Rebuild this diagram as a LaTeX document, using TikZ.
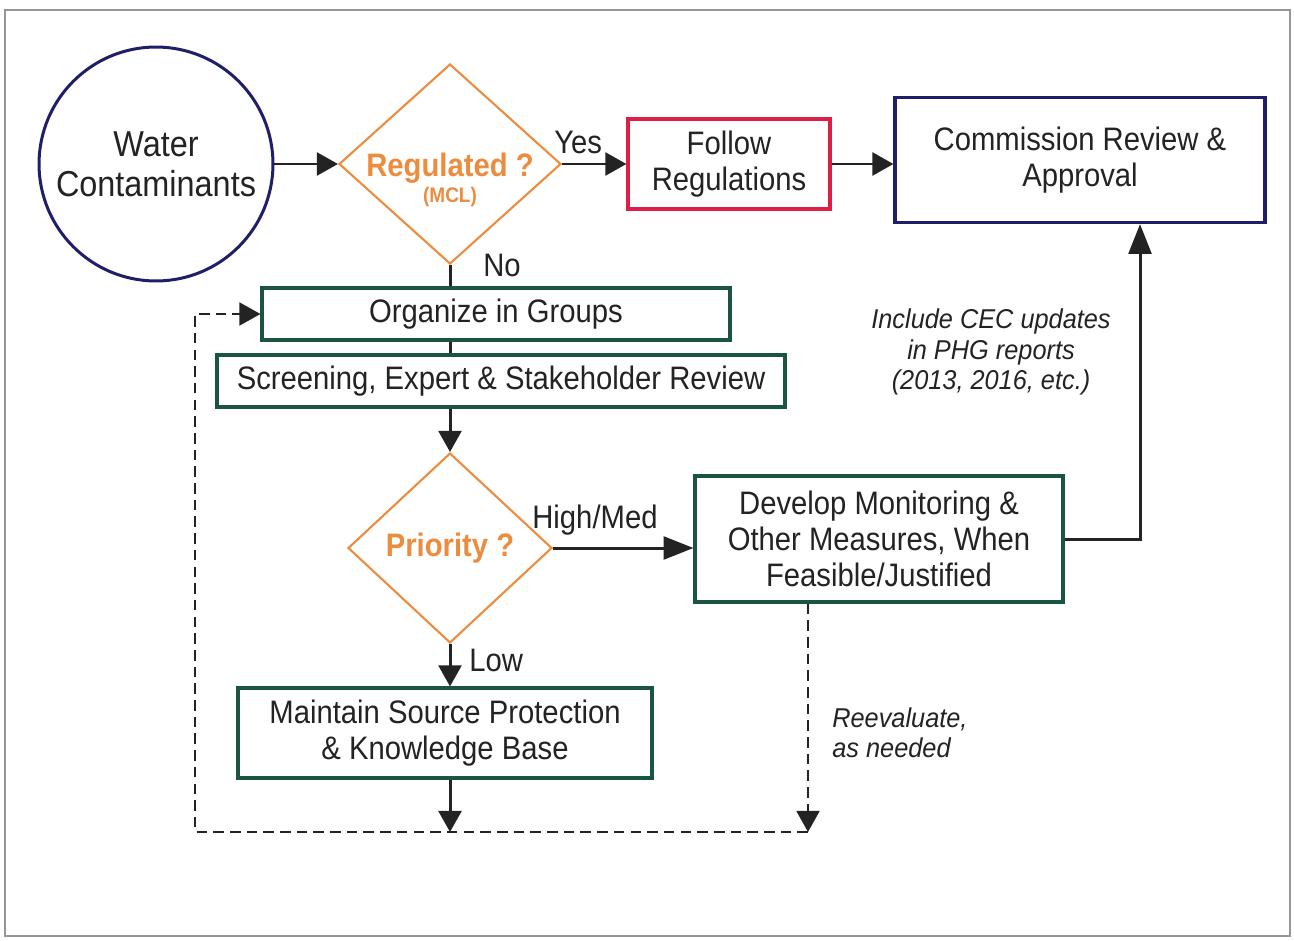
\documentclass[tikz,border=0pt]{standalone}
\usepackage{fontspec}
\setmainfont{Liberation Sans}[FakeStretch=0.9]
\newfontfamily\notefont{Liberation Sans}[FakeStretch=0.93]
\usetikzlibrary{shapes.geometric,arrows.meta,positioning}
\definecolor{navyline}{RGB}{30,30,105}
\definecolor{redline}{RGB}{222,30,70}
\definecolor{greenline}{RGB}{25,85,65}
\definecolor{orangeline}{RGB}{236,140,62}
\definecolor{textgray}{RGB}{35,35,35}
\definecolor{framegray}{RGB}{150,150,150}

\begin{document}
\begin{tikzpicture}[x=0.02cm, y=-0.02cm,
    box/.style={draw=greenline, line width=1.8pt, fill=white, text=textgray, align=center, font=\fontsize{18.5}{20.5}\selectfont, inner sep=2pt},
    decision/.style={diamond, draw=orangeline, line width=1.2pt, text=orangeline, inner sep=0pt, font=\fontsize{18.5}{18}\selectfont\bfseries},
    arr/.style={-{Triangle[length=12pt,width=13pt]}, line width=1.7pt, draw=textgray},
    bigarr/.style={arr, -{Triangle[length=17pt,width=13pt]}},
    joint/.style={line width=1.7pt, draw=textgray},
    recheck/.style={arr, line width=1.4pt, dash pattern=on 6pt off 3.5pt},
    lbl/.style={text=textgray, font=\fontsize{18.5}{20}\selectfont, inner sep=0pt},
    note/.style={text=textgray, inner sep=0pt, font=\notefont\itshape\fontsize{15.5}{17.3}\selectfont},
]
    \useasboundingbox (0,0) rectangle (1294,940);
    % page frame
    \draw[framegray, line width=0.8pt] (5,10) rectangle (1290,936);

    % top row
    \node[circle, draw=navyline, line width=1.7pt, minimum size=4.68cm, text=textgray, align=center,
          font=\fontsize{20.5}{22.7}\selectfont] (water) at (156,164) {Water\\Contaminants};
    \node[decision, minimum width=4.44cm, minimum height=4cm] (reg) at (450,164)
        {\smash{\raisebox{-15pt}{\begin{tabular}{@{}c@{}}Regulated ?\\[-3pt]{\fontsize{12}{14}\selectfont(MCL)}\end{tabular}}}};
    \node[box, draw=redline, minimum width=4.04cm, minimum height=1.8cm] (follow) at (729,164) {Follow\\Regulations};
    \node[box, draw=navyline, minimum width=7.4cm, minimum height=2.5cm] (comm) at (1080,160) {Commission Review \&\\Approval};

    % screening column
    \node[box, minimum width=9.36cm, minimum height=1.04cm] (org) at (496,314) {Organize in Groups};
    \node[box, minimum width=11.36cm, minimum height=1.04cm] (scr) at (501,381) {Screening, Expert \& Stakeholder Review};
    \node[decision, minimum width=4.08cm, minimum height=3.8cm] (pri) at (450,548) {Priority ?};
    \node[box, minimum width=7.36cm, minimum height=2.52cm] (dev) at (879,539)
        {Develop Monitoring \&\\Other Measures, When\\Feasible/Justified};
    \node[box, minimum width=8.28cm, minimum height=1.8cm] (maint) at (445,733)
        {Maintain Source Protection\\\& Knowledge Base};

    % helper points
    \coordinate (riser) at (1140,543);
    \coordinate (sinkL) at (195,832);
    \coordinate (sinkR) at (808,832);

    % labels
    \node[lbl, anchor=base west] (yes) at (554,153) {Yes};
    \node[lbl, anchor=base west] (no) at (483,276) {No};
    \node[lbl, anchor=base west] (high) at (532,528) {High/Med};
    \node[lbl, anchor=base west] (low) at (469,671) {Low};
    \node[note, align=center] (cec) at (991,352) {Include CEC updates\\in PHG reports\\(2013, 2016, etc.)};
    \node[note, align=left, anchor=west] (reeval) at (832,733) {Reevaluate,\\as needed};

    % connectors
    \draw[arr] (water) -- (reg);
    \draw[arr] (reg) -- (follow);
    \draw[arr] (follow.east) -- (follow.east -| comm.west);
    \draw[joint] (reg.south) -- (reg.south |- org.north);
    \draw[joint] (reg.south |- org.south) -- (reg.south |- scr.north);
    \draw[arr] (pri.north |- scr.south) -- (pri.north);
    \draw[bigarr] (pri.east) -- (pri.east -| dev.west);
    \draw[bigarr] (dev.east) -| (riser |- comm.south);
    \draw[arr] (pri.south) -- (pri.south |- maint.north);
    \draw[arr] (pri.south |- maint.south) -- (pri.south |- sinkL);
    % reevaluation loop
    \draw[recheck] (dev.south -| sinkR) -- (sinkR);
    \draw[recheck] (sinkR) -- (sinkL) -- (sinkL |- org.west) -- (org.west);
\end{tikzpicture}
\end{document}
